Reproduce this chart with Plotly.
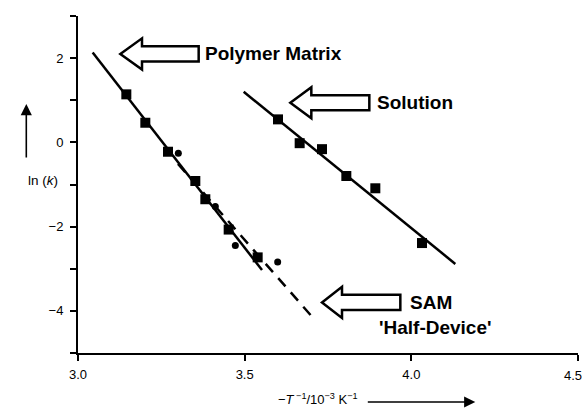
import plotly.graph_objects as go

# ---- data ----
polymer_x = [3.145, 3.202, 3.270, 3.352, 3.382, 3.452, 3.539]
polymer_y = [1.14, 0.466, -0.222, -0.917, -1.35, -2.07, -2.73]

sam_x = [3.301, 3.412, 3.472, 3.599]
sam_y = [-0.26, -1.52, -2.45, -2.84]

solution_x = [3.600, 3.665, 3.732, 3.805, 3.892, 4.032]
solution_y = [0.546, -0.019, -0.161, -0.798, -1.09, -2.39]

polymer_fit_x = [3.044, 3.552]
polymer_fit_y = [2.135, -3.03]
sam_fit_x = [3.30, 3.699]
sam_fit_y = [-0.51, -4.11]
solution_fit_x = [3.497, 4.132]
solution_fit_y = [1.20, -2.885]

x_ticks = [3.0, 3.5, 4.0, 4.5]
x_tick_text = ["3.0", "3.5", "4.0", "4.5"]
y_ticks = [-5, -4, -3, -2, -1, 0, 1, 2, 3]
y_tick_text = ["", "\u22124", "", "\u22122", "", "0", "", "2", ""]

# arrow callouts: (tip x, tip y, head base x, shaft end x)
callouts = [
    (3.127, 2.10, 3.192, 3.362),
    (3.637, 0.94, 3.700, 3.874),
    (3.732, -3.80, 3.792, 3.967),
]
labels = [
    ("Polymer Matrix", 3.374, 2.10),
    ("Solution", 3.890, 0.94),
    ("SAM", 3.989, -3.80),
    ("'Half-Device'", 3.898, -4.39),
]

fig = go.Figure()

fig.add_trace(go.Scatter(x=polymer_fit_x, y=polymer_fit_y, mode="lines",
                         line=dict(color="black", width=2.5), hoverinfo="skip"))
fig.add_trace(go.Scatter(x=sam_fit_x, y=sam_fit_y, mode="lines",
                         line=dict(color="black", width=2.5, dash="11px,8px"), hoverinfo="skip"))
fig.add_trace(go.Scatter(x=solution_fit_x, y=solution_fit_y, mode="lines",
                         line=dict(color="black", width=2.5), hoverinfo="skip"))

fig.add_trace(go.Scatter(x=polymer_x, y=polymer_y, mode="markers",
                         marker=dict(symbol="square", size=10, color="black")))
fig.add_trace(go.Scatter(x=sam_x, y=sam_y, mode="markers",
                         marker=dict(symbol="circle", size=7, color="black")))
fig.add_trace(go.Scatter(x=solution_x, y=solution_y, mode="markers",
                         marker=dict(symbol="square", size=10, color="black")))

head_h = 0.37
shaft_h = 0.18
for tx, ty, hx, sx in callouts:
    path = (f"M {tx},{ty} L {hx},{ty + head_h} L {hx},{ty + shaft_h} "
            f"L {sx},{ty + shaft_h} L {sx},{ty - shaft_h} L {hx},{ty - shaft_h} "
            f"L {hx},{ty - head_h} Z")
    fig.add_shape(type="path", path=path, xref="x", yref="y",
                  line=dict(color="black", width=2.5), fillcolor="white")

for txt, lx, ly in labels:
    fig.add_annotation(x=lx, y=ly, xref="x", yref="y", text=f"<b>{txt}</b>",
                       showarrow=False, xanchor="left", yanchor="middle",
                       font=dict(family="Liberation Sans, Arial", size=19, color="black"))

tick_font = dict(family="Liberation Sans, Arial", size=13, color="black")

# last x tick label drawn flush with the right edge (as in the reference)
fig.add_annotation(x=x_ticks[-1], y=0, xref="x", yref="paper", text=x_tick_text[-1],
                   showarrow=False, xanchor="right", yanchor="top", xshift=6, yshift=-13,
                   font=tick_font)

# axis titles with arrows
fig.add_annotation(x=-0.1034, y=(353 - 180) / 337, xref="paper", yref="paper",
                   text="ln (<i>k</i>)", showarrow=False,
                   font=dict(family="Liberation Sans, Arial", size=13.5, color="black"))
fig.add_annotation(x=-0.1034, y=(353 - 104) / 337, xref="paper", yref="paper",
                   text="", showarrow=True, ax=0, ay=55, arrowhead=2,
                   arrowsize=1.4, arrowwidth=1.6, arrowcolor="black")
fig.add_annotation(x=(318 - 77.7) / 500, y=(353 - 409) / 337, xref="paper", yref="paper",
                   text="\u2212<i>T</i><sup> \u22121</sup>/10<sup>\u22123</sup> K<sup>\u22121</sup>",
                   showarrow=False,
                   font=dict(family="Liberation Sans, Arial", size=13, color="black"))
fig.add_annotation(x=(475 - 77.7) / 500, y=(353 - 402) / 337, xref="paper", yref="paper",
                   text="", showarrow=True, ax=-109, ay=0, arrowhead=2,
                   arrowsize=1.4, arrowwidth=1.6, arrowcolor="black")

axis_common = dict(showgrid=False, zeroline=False, showline=True, linecolor="black",
                   linewidth=2, ticks="outside", ticklen=6, tickwidth=1.6,
                   tickcolor="black", automargin=False, tickfont=tick_font)

fig.update_xaxes(range=[3.0, 4.5], tickvals=x_ticks,
                 ticktext=x_tick_text[:-1] + [""],
                 ticklabelstandoff=2, **axis_common)
fig.update_yaxes(range=[-5, 3], tickvals=y_ticks, ticktext=y_tick_text,
                 ticklabelstandoff=4, **axis_common)

fig.update_layout(width=584, height=412, showlegend=False,
                  margin=dict(l=78, r=6, t=16, b=59),
                  plot_bgcolor="white", paper_bgcolor="white")

fig.write_html("out.html")
